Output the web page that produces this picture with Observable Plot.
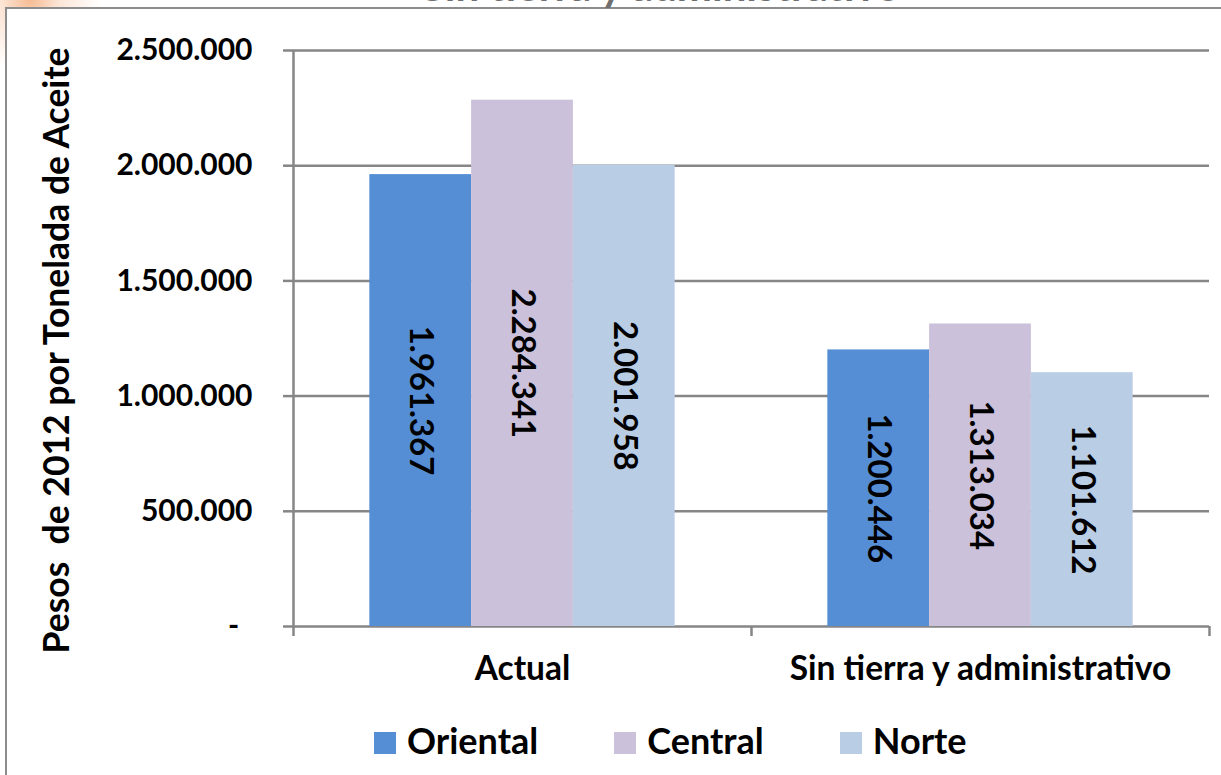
<!DOCTYPE html>
<html>
<head>
<meta charset="utf-8">
<script src="https://cdn.jsdelivr.net/npm/d3@7"></script>
<script src="https://cdn.jsdelivr.net/npm/@observablehq/plot@0.6"></script>
<style>
  html, body { margin: 0; padding: 0; width: 1221px; height: 775px; overflow: hidden; }
  body {
    position: relative;
    background:
      radial-gradient(circle at 30px 0px, rgba(244,170,120,0.8) 0px, rgba(248,200,168,0.45) 30px, rgba(255,255,255,0) 72px),
      #fff;
    font-family: Lato, "Open Sans", sans-serif;
  }
  #panel {
    position: absolute; left: 5px; top: 7px; width: 1400px; height: 900px;
    border: 2px solid #8c8c8c; background: #fff; box-sizing: border-box;
  }
  #title {
    position: absolute; left: 0; width: 1322px; top: -36px; text-align: center;
    font-size: 42px; line-height: 42px; font-weight: 700; color: #6f6f6f; white-space: nowrap;
  }
  #chart { position: absolute; left: 0; top: 0; }
  #legend {
    position: absolute; left: 374px; top: 720px; display: flex; gap: 76px;
    font-size: 36px; font-weight: 700; color: #000; line-height: 40px;
  }
  #legend .item { display: flex; align-items: center; }
  #legend .sw { width: 22px; height: 22px; margin-right: 11px; margin-top: 6px; }
</style>
</head>
<body>
<div id="panel"></div>
<div id="title">Sin tierra y administrativo</div>
<div id="chart"></div>
<div id="legend"></div>
<script>
// Oil cost per tonne (2012 pesos) by region, current vs. without land and administrative costs
const categories = ["Actual", "Sin tierra y administrativo"];
const series = ["Oriental", "Central", "Norte"];
const oriental = [1961367, 1200446];
const central = [2284341, 1313034];
const norte = [2001958, 1101612];
const yTicks = [0, 500000, 1000000, 1500000, 2000000, 2500000];
const colors = ["#558ED5", "#CCC1DA", "#B9CDE5"];
const yLabel = "Pesos \u00A0de 2012 por Tonelada de Aceite";

const bySeries = [oriental, central, norte];
const rows = categories.flatMap((cat, i) =>
  series.map((s, j) => ({cat, i, s, j, value: bySeries[j][i]}))
);

// Spanish number format: 1.961.367
const es = d3.formatLocale({decimal: ",", thousands: ".", grouping: [3], currency: ["$", ""]});
const fmt = es.format(",d");

// each category occupies one unit on x; its bars fill the central two thirds
const span = 2 / 3;
const bw = span / series.length;
const left = d => d.i + 0.5 - span / 2 + d.j * bw;

const axisGray = "#868686";

const plot = Plot.plot({
  width: 1221,
  height: 775,
  marginLeft: 293,
  marginRight: 12,
  marginTop: 50,
  marginBottom: 149,
  style: {background: "transparent", fontFamily: "Lato, 'Open Sans', sans-serif", fontWeight: "700", color: "#000", overflow: "visible"},
  x: {type: "linear", domain: [0, categories.length], axis: null},
  y: {domain: [0, 2500000], axis: null},
  color: {domain: series, range: colors},
  marks: [
    Plot.gridY(yTicks, {stroke: axisGray, strokeOpacity: 1, strokeWidth: 2.5}),
    Plot.axisY(yTicks, {
      tickSize: 10, tickPadding: 31, stroke: axisGray, strokeWidth: 2.5,
      tickFormat: d => d === 0 ? "" : fmt(d), fontSize: 30, fill: "#000", label: null
    }),
    Plot.text([0], {y: d => d, text: () => "-", frameAnchor: "left", textAnchor: "middle", dx: -60, fontSize: 30, fill: "#000"}),
    Plot.ruleX([0], {stroke: axisGray, strokeWidth: 2.5}),
    Plot.axisX(d3.range(categories.length + 1), {
      tickSize: 10, stroke: axisGray, strokeWidth: 2.5, tickFormat: () => "", label: null
    }),
    Plot.rectY(rows, {x1: left, x2: d => left(d) + bw, y: "value", fill: "s"}),
    Plot.text(rows, {
      x: d => left(d) + bw / 2, y: d => d.value / 2, text: d => fmt(d.value),
      rotate: 90, fontSize: 33, fill: "#000"
    }),
    Plot.text(categories, {
      x: (c, i) => i + 0.5, frameAnchor: "bottom", lineAnchor: "top", dy: 30,
      text: d => d, fontSize: 33.5, fill: "#000"
    }),
    Plot.text([yLabel], {
      frameAnchor: "left", textAnchor: "middle", lineAnchor: "middle", dx: -236, dy: 12, rotate: -90,
      text: d => d, fontSize: 35.5, fill: "#000"
    })
  ]
});
document.getElementById("chart").appendChild(plot);

// legend swatches share the bar colours
const legend = d3.select("#legend");
const color = plot.scale("color");
series.forEach((s, k) => {
  const item = legend.append("div").attr("class", "item");
  item.append("div").attr("class", "sw").style("background", color.range[k]);
  item.append("span").text(s);
});
</script>
</body>
</html>
